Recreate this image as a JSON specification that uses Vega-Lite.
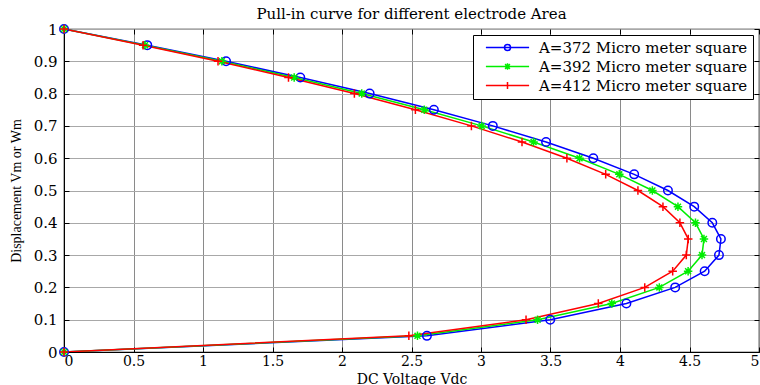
{
  "$schema": "https://vega.github.io/schema/vega-lite/v6.json",
  "width": 695,
  "height": 323,
  "autosize": {"type": "none"},
  "padding": {"left": 64, "top": 29, "right": 1, "bottom": 33},
  "background": "white",
  "title": {
    "text": "Pull-in curve for different electrode Area",
    "font": "DejaVu Serif",
    "fontSize": 15,
    "fontWeight": "normal",
    "color": "#000",
    "anchor": "middle",
    "offset": 0
  },
  "config": {
    "view": {"stroke": "#000", "strokeWidth": 1.2},
    "axis": {
      "labelFont": "DejaVu Serif",
      "labelFontSize": 15,
      "labelColor": "#000",
      "titleFont": "DejaVu Serif",
      "titleFontSize": 16,
      "titleFontWeight": "normal",
      "titleColor": "#000",
      "domainColor": "#000",
      "tickColor": "#000",
      "tickSize": -5,
      "gridWidth": 1
    },
    "legend": {
      "labelFont": "DejaVu Serif",
      "labelFontSize": 15,
      "labelColor": "#000",
      "labelLimit": 0
    }
  },
  "data": {
    "values": [
      {"V": 0, "y": 0, "series": "A=372 Micro meter square"},
      {"V": 2.611, "y": 0.05, "series": "A=372 Micro meter square"},
      {"V": 3.498, "y": 0.1, "series": "A=372 Micro meter square"},
      {"V": 4.046, "y": 0.15, "series": "A=372 Micro meter square"},
      {"V": 4.397, "y": 0.2, "series": "A=372 Micro meter square"},
      {"V": 4.609, "y": 0.25, "series": "A=372 Micro meter square"},
      {"V": 4.712, "y": 0.3, "series": "A=372 Micro meter square"},
      {"V": 4.726, "y": 0.35, "series": "A=372 Micro meter square"},
      {"V": 4.664, "y": 0.4, "series": "A=372 Micro meter square"},
      {"V": 4.534, "y": 0.45, "series": "A=372 Micro meter square"},
      {"V": 4.345, "y": 0.5, "series": "A=372 Micro meter square"},
      {"V": 4.102, "y": 0.55, "series": "A=372 Micro meter square"},
      {"V": 3.808, "y": 0.6, "series": "A=372 Micro meter square"},
      {"V": 3.468, "y": 0.65, "series": "A=372 Micro meter square"},
      {"V": 3.085, "y": 0.7, "series": "A=372 Micro meter square"},
      {"V": 2.661, "y": 0.75, "series": "A=372 Micro meter square"},
      {"V": 2.199, "y": 0.8, "series": "A=372 Micro meter square"},
      {"V": 1.7, "y": 0.85, "series": "A=372 Micro meter square"},
      {"V": 1.166, "y": 0.9, "series": "A=372 Micro meter square"},
      {"V": 0.599, "y": 0.95, "series": "A=372 Micro meter square"},
      {"V": 0, "y": 1, "series": "A=372 Micro meter square"},
      {"V": 0, "y": 0, "series": "A=392 Micro meter square"},
      {"V": 2.543, "y": 0.05, "series": "A=392 Micro meter square"},
      {"V": 3.407, "y": 0.1, "series": "A=392 Micro meter square"},
      {"V": 3.941, "y": 0.15, "series": "A=392 Micro meter square"},
      {"V": 4.283, "y": 0.2, "series": "A=392 Micro meter square"},
      {"V": 4.49, "y": 0.25, "series": "A=392 Micro meter square"},
      {"V": 4.59, "y": 0.3, "series": "A=392 Micro meter square"},
      {"V": 4.604, "y": 0.35, "series": "A=392 Micro meter square"},
      {"V": 4.543, "y": 0.4, "series": "A=392 Micro meter square"},
      {"V": 4.417, "y": 0.45, "series": "A=392 Micro meter square"},
      {"V": 4.233, "y": 0.5, "series": "A=392 Micro meter square"},
      {"V": 3.995, "y": 0.55, "series": "A=392 Micro meter square"},
      {"V": 3.709, "y": 0.6, "series": "A=392 Micro meter square"},
      {"V": 3.378, "y": 0.65, "series": "A=392 Micro meter square"},
      {"V": 3.005, "y": 0.7, "series": "A=392 Micro meter square"},
      {"V": 2.592, "y": 0.75, "series": "A=392 Micro meter square"},
      {"V": 2.142, "y": 0.8, "series": "A=392 Micro meter square"},
      {"V": 1.656, "y": 0.85, "series": "A=392 Micro meter square"},
      {"V": 1.136, "y": 0.9, "series": "A=392 Micro meter square"},
      {"V": 0.583, "y": 0.95, "series": "A=392 Micro meter square"},
      {"V": 0, "y": 1, "series": "A=392 Micro meter square"},
      {"V": 0, "y": 0, "series": "A=412 Micro meter square"},
      {"V": 2.481, "y": 0.05, "series": "A=412 Micro meter square"},
      {"V": 3.324, "y": 0.1, "series": "A=412 Micro meter square"},
      {"V": 3.844, "y": 0.15, "series": "A=412 Micro meter square"},
      {"V": 4.178, "y": 0.2, "series": "A=412 Micro meter square"},
      {"V": 4.379, "y": 0.25, "series": "A=412 Micro meter square"},
      {"V": 4.477, "y": 0.3, "series": "A=412 Micro meter square"},
      {"V": 4.491, "y": 0.35, "series": "A=412 Micro meter square"},
      {"V": 4.431, "y": 0.4, "series": "A=412 Micro meter square"},
      {"V": 4.309, "y": 0.45, "series": "A=412 Micro meter square"},
      {"V": 4.129, "y": 0.5, "series": "A=412 Micro meter square"},
      {"V": 3.897, "y": 0.55, "series": "A=412 Micro meter square"},
      {"V": 3.618, "y": 0.6, "series": "A=412 Micro meter square"},
      {"V": 3.295, "y": 0.65, "series": "A=412 Micro meter square"},
      {"V": 2.931, "y": 0.7, "series": "A=412 Micro meter square"},
      {"V": 2.528, "y": 0.75, "series": "A=412 Micro meter square"},
      {"V": 2.089, "y": 0.8, "series": "A=412 Micro meter square"},
      {"V": 1.615, "y": 0.85, "series": "A=412 Micro meter square"},
      {"V": 1.108, "y": 0.9, "series": "A=412 Micro meter square"},
      {"V": 0.569, "y": 0.95, "series": "A=412 Micro meter square"},
      {"V": 0, "y": 1, "series": "A=412 Micro meter square"}
    ]
  },
  "layer": [
    {
      "mark": {"type": "line", "strokeWidth": 1.5, "clip": true},
      "encoding": {
        "x": {
          "field": "V", "type": "quantitative",
          "scale": {"domain": [0, 5], "nice": false, "zero": false},
          "axis": {
            "title": "DC Voltage Vdc",
            "titleFontSize": 14,
            "titleY": 31,
            "titleBaseline": "alphabetic",
            "values": [0, 0.5, 1, 1.5, 2, 2.5, 3, 3.5, 4, 4.5, 5],
            "format": "~g",
            "grid": true, "gridColor": "#8a8a8a",
            "labelFontSize": 14,
            "labelPadding": 7
          }
        },
        "y": {
          "field": "y", "type": "quantitative",
          "scale": {"domain": [0, 1], "nice": false, "zero": false},
          "axis": {
            "title": "Displacement Vm or Wm",
            "titleFont": "Liberation Serif",
            "titleFontSize": 14,
            "values": [0, 0.1, 0.2, 0.3, 0.4, 0.5, 0.6, 0.7, 0.8, 0.9, 1],
            "format": "~g",
            "grid": true, "gridColor": "#a8a8a8",
            "labelPadding": 12,
            "titlePadding": 10
          }
        },
        "color": {
          "field": "series", "type": "nominal",
          "scale": {"range": ["#0000ff", "#00ee00", "#ff0000"]},
          "legend": {
            "title": null,
            "orient": "top-right",
            "offset": 6,
            "fillColor": "white",
            "strokeColor": "#000",
            "padding": 5,
            "rowPadding": 3,
            "symbolSize": 64,
            "symbolStrokeWidth": 1.5,
            "symbolOffset": 22,
            "labelOffset": 24,
            "encode": {
              "symbols": {
                "update": {
                  "shape": {"signal": "datum.value === 'A=372 Micro meter square' ? 'M-5.4,0L5.4,0M0.75,0A0.75,0.75 0 1,1 -0.75,0A0.75,0.75 0 1,1 0.75,0' : datum.value === 'A=392 Micro meter square' ? 'M-5.4,0L5.4,0M-0.8,0L0.8,0M0,-0.8L0,0.8M-0.6,-0.6L0.6,0.6M-0.6,0.6L0.6,-0.6' : 'M-5.4,0L5.4,0M-0.9,0L0.9,0M0,-0.9L0,0.9'"},
                  "fill": {"value": "transparent"}
                }
              }
            }
          }
        },
        "order": {"field": "y", "type": "quantitative"}
      }
    },
    {
      "mark": {"type": "point", "filled": false, "strokeWidth": 1.5, "size": 72, "opacity": 1, "clip": false},
      "encoding": {
        "x": {
          "field": "V", "type": "quantitative",
          "axis": {"orient": "top", "labels": false, "grid": false, "title": null, "domain": false,
                   "values": [0, 0.5, 1, 1.5, 2, 2.5, 3, 3.5, 4, 4.5, 5]}
        },
        "y": {
          "field": "y", "type": "quantitative",
          "axis": {"orient": "right", "labels": false, "grid": false, "title": null, "domain": false,
                   "values": [0, 0.1, 0.2, 0.3, 0.4, 0.5, 0.6, 0.7, 0.8, 0.9, 1]}
        },
        "color": {"field": "series", "type": "nominal"},
        "shape": {
          "field": "series", "type": "nominal",
          "scale": {"range": ["circle", "M-1,0L1,0M0,-1L0,1M-0.7,-0.7L0.7,0.7M-0.7,0.7L0.7,-0.7", "M-1,0L1,0M0,-1L0,1"]},
          "legend": null
        }
      }
    }
  ],
  "resolve": {"axis": {"x": "independent", "y": "independent"}}
}
